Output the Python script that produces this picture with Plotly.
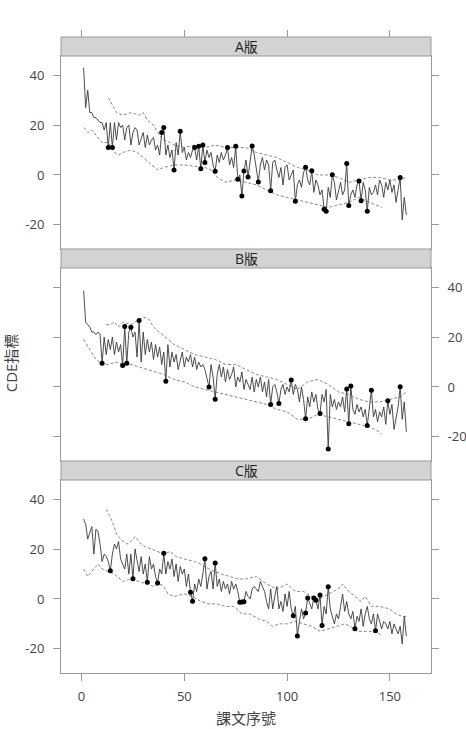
import plotly.graph_objects as go

# lesson index 1..158 for every edition
lesson = list(range(1, 159))

# CDE index per lesson
cde_a = [
    43, 27, 34, 25, 25, 23, 23, 22, 21, 21,
    18, 21, 11, 21, 11, 21, 14, 21, 19, 20,
    14, 19, 20, 12, 17, 19, 18, 12, 15, 17,
    11, 16, 12, 14, 15, 10, 12, 8, 17, 19,
    8, 12, 7, 10, 2, 13, 8, 17.5, 9, 11,
    6, 9, 7, 10, 11, 6, 11.5, 2.5, 12, 5,
    10, 7, 9, 4, 1.5, 8, 5, 9, 6, 8,
    11, 4, 7, 3, 11.5, -1.7, 0, -8.4, 1.6, 6,
    -0.8, 5, 11.6, 8, 3, -2.8, 4, 7, 2, 6,
    4, -6.3, 5, 6, 2, -1, 3, -4, 3, 4,
    -2, 0, 2, -10.6, -4, -2, -5, 1, 3.1, -2,
    -4, 1.7, -7, -2, -4, -8, -6, -13.8, -14.6, -5,
    -9, 0.1, -3, -10, -6, -3, -8, -6, 4.6, -12.3,
    -8, -6, -9, -4, -2.4, -10.4, -3, -6, -14.6, -5,
    -8, -7, -4, -8, -2, -4, -9, -3, -6, -2,
    -7, -4, -11, -5, -1, -18, -9, -16,
]
cde_b = [
    38.6, 26, 25, 24, 22, 22, 21, 22, 21, 9.5,
    20, 13, 19, 15, 20, 13, 18, 14, 17, 8.6,
    24.2, 9.5, 22, 23.9, 20, 22, 12, 26.6, 10, 22,
    13, 19, 14, 18, 11, 17, 12, 16, 9, 14,
    2.3, 17, 8, 14, 10, 13, 7, 11, 14, 8,
    12, 10, 13, 8, 12, 7, 10, 8, 9, 7,
    4, 0, 9, 4, -4.9, 5, 9, 4, 8, 2,
    7, 3, 5, 8, 0, 4, 2, 6, -1, 3,
    1, -1, 4, -2, 3, 0, 4, -2, 2, -4,
    3, -7, 0, 1, -2, -6.6, -1, 1, -3, 0,
    -2, 2.8, -3, 1, -1, -6, 0, -5, -12.8, -4,
    -8, -2, -6, -3, -9, -10.7, -3, -6, -1, -24.9,
    -3, -8, -5, -9, -6, -8, -4, -10, -0.8, -14.8,
    0.4, -9, -11, -7, -10, -8, -12, -9, -15.5, -8,
    -1.3, -12, -9, -14, -10, -12, -8, -15, -5.5, -11,
    -7, -17, -12, -8, 0.1, -13, -6, -18,
]
cde_c = [
    32, 30, 24, 27, 29, 18, 28, 27, 22, 15,
    18, 17, 15, 11.3, 18, 22, 20, 23, 16, 14,
    12, 18, 10, 18, 8.1, 20, 15, 11, 17, 10,
    14, 6.7, 17, 12, 14, 9, 6.4, 12, 10, 18.3,
    10, 15, 12, 16, 9, 14, 7, 13, 10, 12,
    5, 10, 2.7, -0.9, 6, 3, 8, 5, 10, 16.1,
    4, 9, 11, 4, 14.4, 5, 8, 3, 7, 4,
    6, 2, 7, 4, 6, 3, -1.3, -1.2, -1.1, 3,
    1, 0, 4, 5, 4, 3, 7, 5, 3, -1,
    -4, 4, -4, 1, 5, -4, -1, -5, 2, -3,
    3, -4, -6.7, -3, -14.9, -9, -4, -8, -5.6, 0.4,
    -2, -4, 0.4, -0.5, -4, 1.6, -10.7, -3, -6, 4.9,
    -4, -7, -10, -6, -8, -3, 2, -5, -1, -6,
    -8, -5, -12, -7, -9, -4, -11, -6, -3, -8,
    -10, -6, -12.8, -6, -9, -12, -9, -10, -12, -9,
    -14, -10, -12, -14, -11, -18, -7, -15,
]

# lessons flagged with a dot
dots_a = [13, 15, 39, 40, 45, 48, 55, 57, 58, 59, 60, 65, 71, 75, 76, 78,
          79, 81, 83, 86, 92, 104, 109, 112, 118, 119, 122, 129, 130, 135,
          136, 139, 155]
dots_b = [10, 20, 21, 22, 24, 28, 41, 62, 65, 92, 96, 102, 109, 116, 120,
          129, 130, 131, 139, 141, 149, 155]
dots_c = [14, 25, 32, 37, 40, 53, 54, 60, 65, 77, 78, 79, 103, 105, 109,
          110, 113, 114, 116, 117, 120, 133, 143]

# dashed reference bands
up_x_a = [13, 15, 17, 20, 24, 28, 30, 32, 35, 37, 40, 43, 45, 50, 55, 60,
          65, 70, 75, 80, 85, 90, 95, 100, 105, 110, 115, 120, 125, 130,
          135, 140, 145, 150, 155, 158]
up_y_a = [31, 28, 25, 24, 25, 24, 25, 22, 20, 17, 14, 13, 12, 11, 12, 11,
          12, 11, 11, 11, 9, 8, 7, 5, 3, 2, 0, 0, -1, -3,
          -2, -1, -1, -2, -2, -1]
lo_x_a = [1, 3, 5, 7, 10, 13, 16, 18, 20, 24, 27, 30, 33, 37, 40, 45, 50,
          55, 60, 63, 66, 70, 75, 80, 85, 90, 95, 100, 105, 110, 115, 120,
          125, 130, 135, 140, 146]
lo_y_a = [19, 17, 18, 16, 13, 13, 9, 8, 9, 10, 9, 7, 5, 2, 3, 4, 4,
          3.5, 3, 2, -1, -3, -2, -3, -4, -6, -8, -9, -10, -11, -12, -13,
          -12, -11, -9, -11, -13]

up_x_b = [12, 14, 16, 18, 20, 24, 30, 33, 35, 38, 41, 45, 50, 55, 60, 65,
          70, 75, 80, 85, 90, 95, 100, 105, 110, 115, 120, 125, 130, 135,
          140, 145, 150, 155, 158]
up_y_b = [25, 25, 26, 24, 26, 25, 28, 27, 24, 22, 20, 17, 15, 13, 12, 11,
          9, 9, 7, 5, 4, 3, 1, -1, 2, 3, 1, -2, -3, -5,
          -6, -6, -5, -4, -2]
lo_x_b = [1, 4, 7, 10, 13, 17, 20, 24, 28, 35, 40, 45, 50, 55, 60, 65, 70,
          75, 80, 85, 90, 95, 100, 105, 110, 115, 120, 125, 130, 135, 140,
          145, 146]
lo_y_b = [19, 15, 11, 9, 9, 10, 9, 9, 8, 6, 5, 3, 2, 0, -1, -2, -3,
          -4, -5, -6, -7, -9, -10, -13, -13, -11, -12, -13, -14, -15, -16,
          -18, -19]

up_x_c = [12, 15, 17, 19, 22, 24, 26, 29, 31, 34, 37, 40, 43, 46, 50, 55,
          58, 62, 65, 68, 72, 76, 80, 85, 90, 95, 100, 104, 108, 112, 116,
          120, 125, 127, 130, 133, 136, 138, 141, 145, 150, 153, 156, 158]
up_y_c = [36, 31, 26, 24, 22, 23, 25, 22, 21, 20, 19, 18, 19, 17, 16, 15,
          14, 12, 11, 10, 9, 8, 8, 9, 6, 4, 6, 3, 3, 1, 0,
          2, 4, 6, 3, 1, -1, 1, -3, -3, -4, -6, -7, -7]
lo_x_c = [1, 3, 6, 8, 10, 13, 16, 20, 24, 28, 32, 35, 38, 40, 42, 45, 50,
          54, 58, 62, 66, 70, 74, 78, 82, 86, 90, 93, 96, 100, 104, 108,
          112, 116, 120, 124, 128, 131, 134, 138, 142, 145, 146]
lo_y_c = [12, 9, 12, 14, 12, 11, 10, 7, 8, 7, 6, 5, 6, 5, 2, 1, 2,
          1, -1, -2, -2, -3, -3, -6, -6, -8, -9, -11, -10, -10, -9, -10,
          -11, -13, -12, -11, -10, -11, -13, -13, -13, -14, -15]

editions = ['A版', 'B版', 'C版']
y_ticks = [-20, 0, 20, 40]
y_tick_text = ['-20', '0', '20', '40']
x_ticks = [0, 50, 100, 150]

GRID = '#999999'
TXT = '#444444'
FONT = 'Open Sans, Noto Sans CJK TC, sans-serif'

panels = [
    (cde_a, dots_a, up_x_a, up_y_a, lo_x_a, lo_y_a),
    (cde_b, dots_b, up_x_b, up_y_b, lo_x_b, lo_y_b),
    (cde_c, dots_c, up_x_c, up_y_c, lo_x_c, lo_y_c),
]

# plot region: 636 px tall, three bands of 193 px panel + 19 px strip
H_PLOT = 636.0
STRIP = 19 / H_PLOT
BAND = 212 / H_PLOT

fig = go.Figure()
layout = dict(
    width=466, height=729,
    margin=dict(l=61, r=35, t=37, b=56),
    plot_bgcolor='white', paper_bgcolor='white',
    showlegend=False,
    font=dict(family=FONT, size=13, color=TXT),
)
shapes = []
annotations = []

for i, (vals, dots, ux, uy, lx, ly) in enumerate(panels):
    k = i + 1
    xa = 'x' if k == 1 else f'x{k}'
    ya = 'y' if k == 1 else f'y{k}'
    top = 1 - i * BAND
    dom = [top - BAND, top - STRIP]

    for bx, by in ((ux, uy), (lx, ly)):
        fig.add_trace(go.Scatter(
            x=bx, y=by, mode='lines', xaxis=xa, yaxis=ya,
            line=dict(color='#8a8a8a', width=1, dash='3px,2px'),
            hoverinfo='skip'))
    fig.add_trace(go.Scatter(
        x=lesson, y=vals, mode='lines', xaxis=xa, yaxis=ya,
        line=dict(color='#3a3a3a', width=0.9)))
    fig.add_trace(go.Scatter(
        x=dots, y=[vals[d - 1] for d in dots], mode='markers',
        xaxis=xa, yaxis=ya,
        marker=dict(color='black', size=5)))

    last = k == 3
    layout['xaxis' if k == 1 else f'xaxis{k}'] = dict(
        domain=[0, 1], anchor=ya, range=[-10, 170],
        tickvals=x_ticks,
        showticklabels=last, ticks='outside' if last else '',
        ticklen=7, tickcolor=GRID, tickfont=dict(size=13, color=TXT),
        showline=True, linecolor=GRID, linewidth=1, mirror=True,
        showgrid=False, zeroline=False, automargin=False,
        ticklabelstandoff=4,
    )
    layout['yaxis' if k == 1 else f'yaxis{k}'] = dict(
        domain=dom, anchor=xa, range=[-29.7, 47.7],
        tickvals=y_ticks, ticktext=y_tick_text,
        side='right' if k == 2 else 'left',
        ticks='outside', ticklen=7, tickcolor=GRID,
        tickfont=dict(size=13, color=TXT),
        showline=True, linecolor=GRID, linewidth=1, mirror='ticks',
        showgrid=False, zeroline=False, automargin=False,
        ticklabelstandoff=6,
    )

    # strip with the edition name
    shapes.append(dict(
        type='rect', xref='paper', yref='paper',
        x0=0, x1=1, y0=top - STRIP, y1=top,
        fillcolor='#d3d3d3', line=dict(color=GRID, width=1), layer='above'))
    annotations.append(dict(
        text=editions[i], xref='paper', yref='paper',
        x=0.5, y=top - STRIP / 2, showarrow=False,
        xanchor='center', yanchor='middle',
        font=dict(family=FONT, size=14, color='#222222')))

# ticks above the top strip
fig.add_trace(go.Scatter(x=[None], y=[None], xaxis='x4', yaxis='y',
                         mode='markers', hoverinfo='skip'))
layout['xaxis4'] = dict(
    overlaying='x', anchor='free', position=1, side='top',
    range=[-10, 170], tickvals=x_ticks,
    ticks='outside', ticklen=7, tickcolor=GRID, automargin=False,
    showticklabels=False, showline=False, showgrid=False, zeroline=False,
)

annotations.append(dict(
    text='CDE指標', xref='paper', yref='paper',
    x=-0.135, y=0.487, textangle=-90, showarrow=False,
    xanchor='center', yanchor='middle',
    font=dict(family=FONT, size=15, color=TXT)))
annotations.append(dict(
    text='課文序號', xref='paper', yref='paper',
    x=0.5, y=-0.0708, showarrow=False,
    xanchor='center', yanchor='middle',
    font=dict(family=FONT, size=15, color=TXT)))

layout['shapes'] = shapes
layout['annotations'] = annotations
fig.update_layout(**layout)

# drop the default page margin so the 466x729 figure fills the window
fig.write_html('out.html', config={'displayModeBar': False},
               post_script="document.body.style.margin = '0';")
